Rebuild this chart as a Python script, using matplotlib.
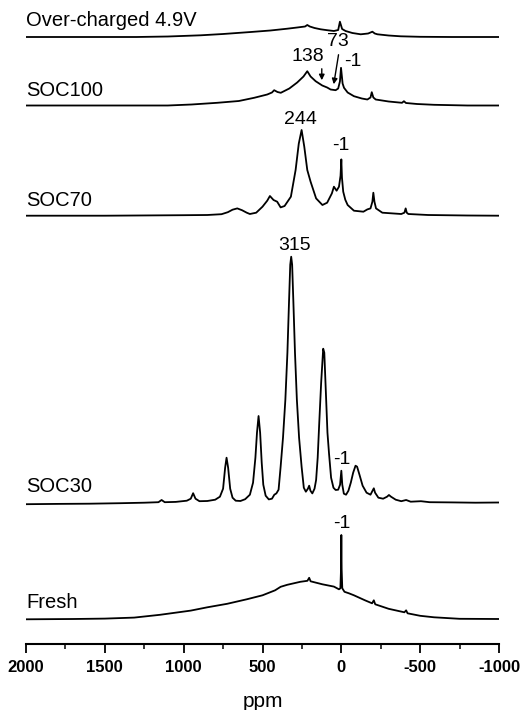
import numpy as np
import matplotlib
matplotlib.use('Agg')
from matplotlib import pyplot as plt

plt.rcParams['font.family'] = ['Liberation Sans', 'DejaVu Sans']
plt.rcParams['axes.unicode_minus'] = False

# traced spectra: chemical shift (ppm) and intensity (arbitrary units)
over_ppm = [2000, 1600, 1300, 1100, 892, 750, 574, 450, 343, 280, 230, 216, 200, 170, 131, 90, 47, 20,
            9, -5, -27, -70, -123, -170, -197, -212, -229, -300, -376, -500, -700, -1000]
over_int = [0, 0, 0, 0.5, 1.7, 3, 5, 6.5, 8.3, 9.5, 10.5, 12, 10.5, 9, 7.7, 6.8, 6, 7,
            15.3, 8, 6, 4, 2.7, 3.5, 5.3, 3.5, 2.7, 1.5, 0.7, 0.2, 0, 0]

soc100_ppm = [2000, 1500, 1101, 950, 787, 650, 553, 470, 440, 426, 405, 384, 330, 280, 240, 216, 195,
              163, 121, 90, 68, 36, 20, 9, 2, -8, -17, -40, -80, -130, -165, -185, -193, -203, -218,
              -300, -385, -397, -410, -480, -588, -800, -1000]
soc100_int = [0, 0, 0, 1, 2.7, 4.5, 7.7, 11, 13, 15.3, 13.5, 12.7, 17, 23, 29, 34.3, 29,
              24.3, 20, 18, 16, 15.3, 17, 24, 37.7, 22, 17.7, 13, 9.3, 7, 6, 8, 13.3, 8, 6,
              4, 2.7, 4.3, 2.5, 1.5, 0.7, 0, 0]

soc70_ppm = [2000, 1500, 1000, 850, 760, 720, 690, 660, 630, 600, 580, 540, 500, 470, 453, 430, 407,
             385, 360, 320, 290, 270, 252, 235, 216, 195, 160, 120, 90, 60, 47, 30, 15, 5, 0, -4,
             -12, -25, -40, -80, -140, -165, -185, -197, -203, -210, -220, -260, -380, -400, -408,
             -415, -425, -550, -800, -1000]
soc70_int = [0, 0, 0.5, 0.7, 1.5, 3.5, 6, 7.3, 5.5, 3, 1.7, 3, 9, 15, 19.7, 15.7, 14,
             8.3, 9.7, 19, 45.7, 72, 85.7, 69, 45.7, 34, 17.3, 10.7, 13, 22.3, 29, 25, 29, 40, 56.3, 38,
             24, 16, 10.7, 5, 4, 6.3, 7.3, 14, 23, 14, 7.3, 3, 1.7, 3, 7.3,
             3, 1.7, 0.7, 0.2, 0]

soc30_ppm = [2000, 1800, 1600, 1400, 1250, 1160, 1140, 1120, 1050, 980, 955, 940, 925, 900, 850,
             800, 770, 750, 737, 728, 718, 705, 690, 670, 640, 610, 580, 560, 545, 535, 525, 515,
             505, 495, 480, 460, 440, 425, 412, 398, 385, 370, 355, 342, 332, 324, 318, 312, 304,
             294, 282, 268, 252, 238, 225, 212, 204, 196, 184, 170, 160, 150, 140, 128, 115, 108,
             98, 88, 78, 65, 50, 36, 20, 8, 0, -6, -16, -30, -45, -60, -75, -90, -100, -115, -135,
             -160, -185, -198, -206, -214, -235, -265, -290, -302, -315, -345, -380, -411, -440,
             -505, -560, -700, -850, -1000]
soc30_int = [-1.5, -1.2, -1, -0.5, 0, 0.5, 2.7, 0.5, 0.8, 2, 4, 9.5, 4, 1.5, 1.7,
             3, 6, 14, 35, 45, 35, 14, 5, 2, 1.7, 3.5, 8, 20, 45, 70, 86.7, 70,
             40, 18, 7, 3.3, 4, 8, 9.3, 13, 36, 65, 103, 150, 200, 238, 246, 238, 200,
             150, 103, 65, 36, 15, 11, 14, 17, 12, 9.3, 14, 22.7, 45, 80, 120, 154, 150,
             110, 70, 49, 25, 15, 12.7, 13, 18, 32, 18, 9, 8, 12, 20, 30, 37, 36, 28, 17,
             10, 8, 12, 14.4, 10, 5, 4, 6, 7.7, 6, 3, 1.5, 2.7, 1,
             1.5, 0.5, 0.3, 0, 0.2]

fresh_ppm = [2000, 1700, 1500, 1314, 1150, 955, 850, 724, 600, 500, 420, 385, 343, 260, 215, 204, 195,
             120, 47, 15, 6, 2, 0, -2, -6, -20, -48, -80, -150, -195, -206, -215, -300, -400, -411,
             -420, -500, -588, -750, -1000]
fresh_int = [0, 0.3, 0.7, 1.7, 4.5, 8.7, 12, 15.5, 20, 24, 29, 32.5, 34.5, 37.5, 38.5, 41.5, 38,
             35, 32.7, 30, 31, 50, 84.3, 50, 31, 27.5, 26, 24, 19, 16, 19, 15, 10.5, 7, 9,
             6, 3.5, 2, 0.5, 0.3]

labels = ['Over-charged 4.9V', 'SOC100', 'SOC70', 'SOC30', 'Fresh']
spectra = [(over_ppm, over_int), (soc100_ppm, soc100_int), (soc70_ppm, soc70_int),
           (soc30_ppm, soc30_int), (fresh_ppm, fresh_int)]

# vertical offsets of each trace (figure pixels above the axis line)
offsets = [607, 538.5, 428.3, 141.3, 24.7]
label_y = [624, 553.5, 444, 157, 42]

fig = plt.figure(figsize=(5.29, 7.10), dpi=100)
ax = fig.add_axes([26 / 529, 66 / 710, 473 / 529, 644 / 710])

for (x, y), off in zip(spectra, offsets):
    ax.plot(x, np.array(y) + off, color='black', lw=1.3)

for name, ly in zip(labels, label_y):
    ax.text(2000, ly, name, fontsize=14.5, ha='left', va='center')

# peak annotations
ax.text(259, 525, '244', fontsize=14, ha='center', va='center')
ax.text(2, 498, '-1', fontsize=14, ha='center', va='center')
ax.text(296, 398.5, '315', fontsize=14, ha='center', va='center')
ax.text(0, 185, '-1', fontsize=14, ha='center', va='center')
ax.text(0, 120, '-1', fontsize=14, ha='center', va='center')
ax.text(214, 588, '138', fontsize=14, ha='center', va='center')
ax.text(23, 603, '73', fontsize=14, ha='center', va='center')
ax.text(-75, 583, '-1', fontsize=14, ha='center', va='center')
ax.annotate('', xy=(124, 561), xytext=(124, 578),
            arrowprops=dict(arrowstyle='-|>', color='black', lw=1, mutation_scale=8))
ax.annotate('', xy=(51, 557), xytext=(15, 592),
            arrowprops=dict(arrowstyle='-|>', color='black', lw=1, mutation_scale=8))

ax.set_xlim(2000, -1000)
ax.set_ylim(0, 644)
for s in ['top', 'left', 'right']:
    ax.spines[s].set_visible(False)
ax.spines['bottom'].set_linewidth(1.5)
ax.set_yticks([])
ax.set_xticks([2000, 1500, 1000, 500, 0, -500, -1000])
ax.set_xticks([1750, 1250, 750, 250, -250, -750], minor=True)
ax.tick_params(axis='x', which='major', direction='out', length=6.5, width=1.3,
               labelsize=12, pad=5)
ax.tick_params(axis='x', which='minor', direction='out', length=3.5, width=1.1)
for t in ax.get_xticklabels():
    t.set_fontweight('bold')
ax.set_xlabel('ppm', fontsize=15, labelpad=12)

fig.savefig('out.png', dpi=100)
